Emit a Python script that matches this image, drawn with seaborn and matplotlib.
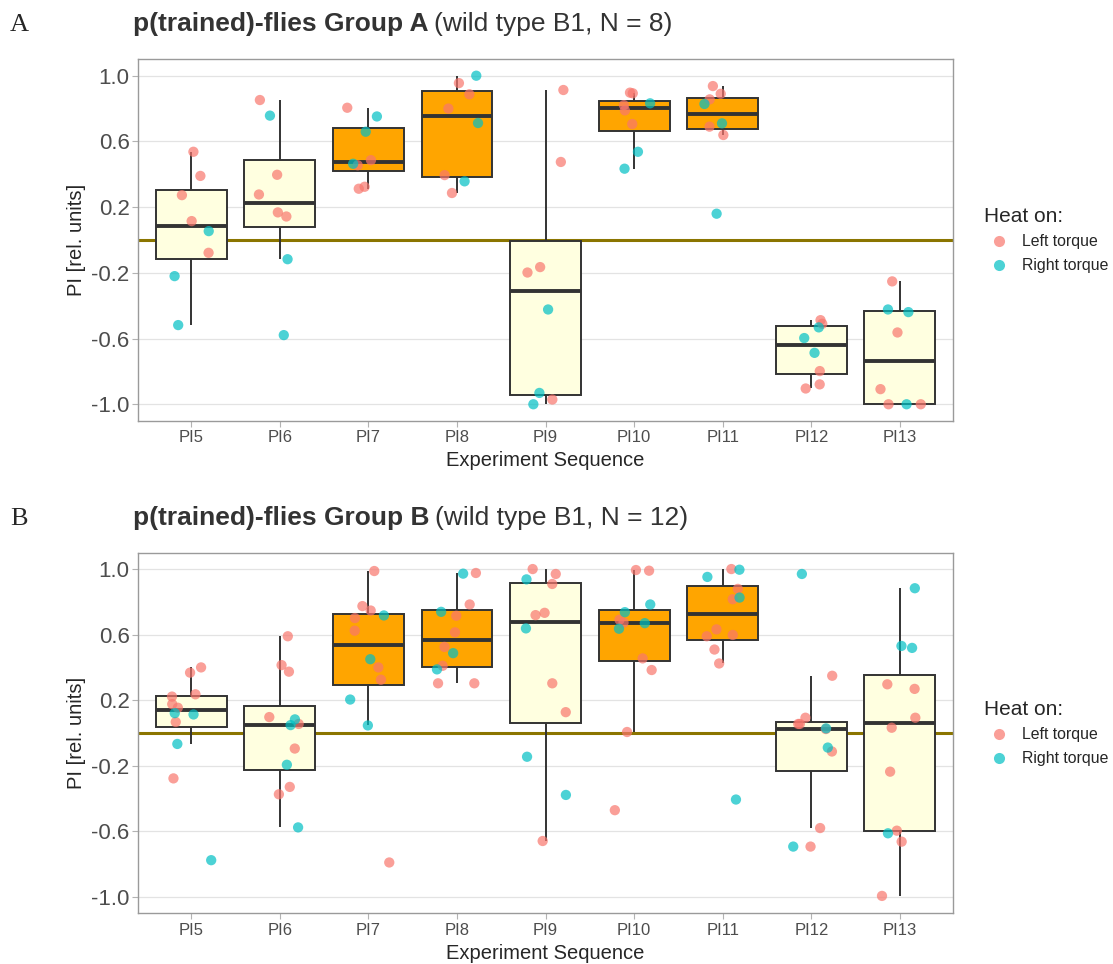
import numpy as np
import pandas as pd
import matplotlib
matplotlib.use('Agg')
import matplotlib.pyplot as plt
import seaborn as sns
from matplotlib.lines import Line2D

seqs = ['PI5', 'PI6', 'PI7', 'PI8', 'PI9', 'PI10', 'PI11', 'PI12', 'PI13']
trained = ['PI7', 'PI8', 'PI10', 'PI11']

# Gruppe A (N = 8), eine Liste pro Sequenz
a_left = [
    [0.537, 0.39, 0.273, 0.115, -0.078],
    [0.852, 0.397, 0.277, 0.168, 0.143],
    [0.805, 0.486, 0.455, 0.324, 0.312],
    [0.955, 0.887, 0.80, 0.395, 0.286],
    [0.913, 0.475, -0.165, -0.198, -0.971],
    [0.897, 0.893, 0.821, 0.789, 0.706],
    [0.937, 0.89, 0.856, 0.69, 0.639],
    [-0.488, -0.51, -0.798, -0.879, -0.904],
    [-0.252, -0.563, -0.908, -1.0, -1.0],
]
a_right = [
    [0.054, -0.22, -0.518],
    [0.757, -0.117, -0.579],
    [0.752, 0.659, 0.464],
    [1.0, 0.712, 0.357],
    [-0.423, -0.931, -1.0],
    [0.832, 0.537, 0.434],
    [0.828, 0.71, 0.16],
    [-0.532, -0.597, -0.687],
    [-0.423, -0.439, -1.0],
]

# Gruppe B (N = 12)
b_left = [
    [0.40, 0.368, 0.236, 0.222, 0.176, 0.154, 0.067, -0.277],
    [0.59, 0.414, 0.374, 0.097, 0.055, -0.095, -0.329, -0.374],
    [0.988, 0.774, 0.747, 0.701, 0.624, 0.40, 0.325, -0.79],
    [0.976, 0.784, 0.715, 0.614, 0.525, 0.41, 0.303, 0.303],
    [1.0, 0.97, 0.909, 0.733, 0.719, 0.303, 0.127, -0.659],
    [0.994, 0.99, 0.691, 0.673, 0.455, 0.384, 0.006, -0.471],
    [1.0, 0.879, 0.816, 0.632, 0.598, 0.59, 0.509, 0.424],
    [0.349, 0.093, 0.055, 0.055, 0.024, -0.113, -0.58, -0.693],
    [0.297, 0.269, 0.093, 0.032, -0.236, -0.596, -0.663, -0.994],
]
b_right = [
    [0.121, 0.113, -0.067, -0.776],
    [0.083, 0.048, -0.194, -0.576],
    [0.717, 0.45, 0.204, 0.046],
    [0.972, 0.739, 0.487, 0.388],
    [0.937, 0.638, -0.145, -0.378],
    [0.784, 0.737, 0.67, 0.636],
    [0.996, 0.952, 0.826, -0.406],
    [0.97, 0.028, -0.089, -0.693],
    [0.883, 0.531, 0.519, -0.612],
]

heat_pal = {'Left torque': '#F8766D', 'Right torque': '#00BFC4'}
box_pal = {s: ('#FFA500' if s in trained else '#FFFFE0') for s in seqs}


def long_table(left, right):
    rows = []
    for seq, l, r in zip(seqs, left, right):
        rows += [(seq, v, 'Left torque') for v in l]
        rows += [(seq, v, 'Right torque') for v in r]
    return pd.DataFrame(rows, columns=['seq', 'PI', 'heat'])


sns.set_style('white')
plt.rcParams['font.family'] = ['Liberation Sans', 'DejaVu Sans']

fig = plt.figure(figsize=(11.13, 9.64), dpi=100)
ax_a = fig.add_axes([0.124, 0.5636, 0.7323, 0.3749])
ax_b = fig.add_axes([0.124, 0.0526, 0.7323, 0.3741])

np.random.seed(3)


def draw_panel(ax, df, letter, bold, rest, ytop):
    ax.axhline(0, color='#8B7500', lw=2.2, zorder=1)
    sns.boxplot(data=df, x='seq', y='PI', hue='seq', order=seqs, hue_order=seqs,
                palette=box_pal, legend=False, saturation=1, width=0.8,
                showfliers=False, showcaps=False, linecolor='#333333',
                linewidth=1.4, medianprops={'linewidth': 2.8}, ax=ax)
    sns.stripplot(data=df, x='seq', y='PI', hue='heat', order=seqs,
                  palette=heat_pal, jitter=0.25, size=7.4, alpha=0.7,
                  linewidth=0, legend=False, ax=ax, zorder=3)

    ax.set_xlim(-0.6, 8.6)
    ax.set_ylim(-1.1, 1.1)
    ticks = [1.0, 0.6, 0.2, -0.2, -0.6, -1.0]
    ax.set_yticks(ticks)
    ax.set_yticklabels([f'{t:.1f}' for t in ticks])
    ax.yaxis.grid(True, color='#E3E3E3', lw=0.9)
    ax.xaxis.grid(False)
    ax.set_axisbelow(True)
    for sp in ax.spines.values():
        sp.set_color('#9A9A9A')
        sp.set_linewidth(1.0)
    ax.tick_params(axis='both', length=4, width=0.8, color='#B3B3B3',
                   labelcolor='#4D4D4D', direction='out', bottom=True, left=True)
    ax.tick_params(axis='y', labelsize=16, pad=2)
    ax.tick_params(axis='x', labelsize=12, pad=3)
    ax.set_xlabel('Experiment Sequence', fontsize=14.5, labelpad=4)
    ax.set_ylabel('PI [rel. units]', fontsize=14.5, labelpad=4)

    handles = [Line2D([], [], marker='o', ls='', color=heat_pal[k], alpha=0.7,
                      markersize=8, markeredgewidth=0, label=k) for k in heat_pal]
    leg = ax.legend(handles=handles, title='Heat on:', loc='center left',
                    bbox_to_anchor=(1.02, 0.5), frameon=False, fontsize=11.4,
                    title_fontsize=15, handletextpad=0.4, labelspacing=0.55)
    leg._legend_box.align = 'left'

    fig.text(0.009, ytop, letter, fontsize=19, family='Liberation Serif', va='baseline')
    t1 = fig.text(0.1195, ytop, bold, fontsize=19, fontweight='bold',
                  color='#333333', va='baseline')
    ax.annotate(rest, xy=(1, 0), xycoords=t1, xytext=(4, 0),
                textcoords='offset points', fontsize=19, color='#333333',
                va='bottom', ha='left', annotation_clip=False)


draw_panel(ax_a, long_table(a_left, a_right), 'A', 'p(trained)-flies Group A',
           '(wild type B1, N = 8)', 0.968)
draw_panel(ax_b, long_table(b_left, b_right), 'B', 'p(trained)-flies Group B',
           '(wild type B1, N = 12)', 0.4555)

fig.savefig('out.png', dpi=100)
